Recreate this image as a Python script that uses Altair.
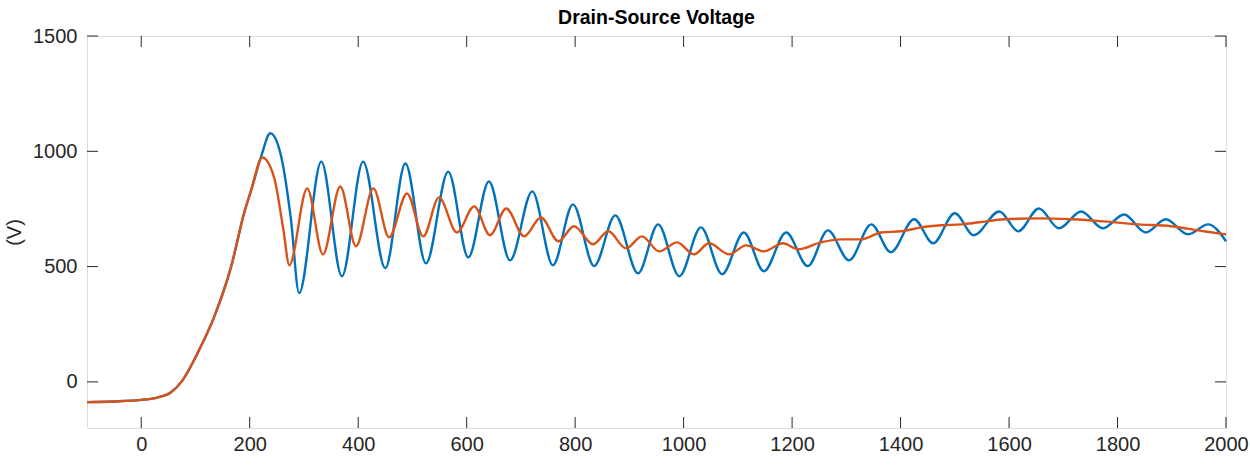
import altair as alt
import pandas as pd

# ---- data ----
blue_x = [-100, -50, 0, 30, 55, 74, 105, 135, 166, 190, 203, 221, 238, 258, 276, 291,
          332, 370, 409, 450, 487, 525, 566, 603, 641, 680, 721, 759, 796, 835, 874,
          916, 953, 992, 1032, 1071, 1111, 1148, 1189, 1229, 1266, 1305, 1346, 1382,
          1425, 1460, 1500, 1535, 1582, 1617, 1655, 1692, 1733, 1773, 1812, 1852,
          1889, 1930, 1967, 2000]
blue_y = [-88, -85, -78, -68, -45, 0, 130, 285, 502, 735, 834, 977, 1078, 977, 705, 385,
          955, 458, 955, 493, 947, 514, 912, 540, 869, 527, 826, 506, 770, 502, 722,
          471, 683, 458, 670, 467, 648, 480, 648, 502, 657, 527, 683, 562,
          705, 601, 731, 636, 739, 653, 752, 666, 739, 666, 726, 648,
          705, 640, 683, 610]

orange_x = [-100, -50, 0, 30, 55, 74, 105, 135, 166, 190, 203, 223, 245, 262, 273,
            306, 335, 367, 396, 428, 457, 490, 520, 549, 582, 614, 643, 673, 706, 737,
            769, 798, 833, 861, 894, 923, 955, 988, 1019, 1047, 1084, 1115, 1148, 1183,
            1211, 1253, 1290, 1327, 1364, 1401, 1438, 1475, 1512, 1545, 1591, 1653,
            1714, 1775, 1838, 1899, 1959, 2000]
orange_y = [-88, -85, -78, -68, -45, 0, 130, 285, 502, 735, 834, 973, 886, 661, 506,
            839, 553, 847, 588, 839, 627, 817, 631, 800, 648, 761, 636, 752, 631, 713,
            610, 675, 597, 653, 579, 631, 566, 605, 553, 601, 553, 592, 566, 601,
            575, 605, 618, 618, 648, 653, 670, 679, 683, 692, 705, 709,
            705, 696, 683, 675, 653, 640]

x_ticks = [0, 200, 400, 600, 800, 1000, 1200, 1400, 1600, 1800, 2000]
y_ticks = [0, 500, 1000, 1500]

W, H = 1139, 392
FONT = "Liberation Sans"
TXT = "#262626"

blue_df = pd.DataFrame({"t": blue_x, "v": blue_y})
orange_df = pd.DataFrame({"t": orange_x, "v": orange_y})
xt_df = pd.DataFrame({"t": x_ticks})
yt_df = pd.DataFrame({"v": y_ticks})

xscale = alt.Scale(domain=[-100, 2000], nice=False, zero=False)
yscale = alt.Scale(domain=[-200, 1500], nice=False, zero=False)

xaxis = alt.Axis(values=x_ticks, format="d", ticks=False, domain=False, grid=False,
                 labelFontSize=20, labelFont=FONT, labelColor=TXT, labelPadding=6,
                 labelFlush=False, labelOverlap=False, title=None)
yaxis = alt.Axis(values=y_ticks, format="d", ticks=False, domain=False, grid=False,
                 labelFontSize=20, labelFont=FONT, labelColor=TXT, labelPadding=10,
                 labelFlush=False, labelOverlap=False,
                 title="(V)", titleFontSize=20, titleFont=FONT, titleColor=TXT,
                 titleFontWeight="normal", titleX=-73, titleY=H / 2,
                 titleBaseline="middle", titleAlign="center", titleAngle=270)

blue = alt.Chart(blue_df).mark_line(color="#0072BD", strokeWidth=2.4,
                                    interpolate="monotone").encode(
    x=alt.X("t:Q", scale=xscale, axis=xaxis),
    y=alt.Y("v:Q", scale=yscale, axis=yaxis),
)
orange = alt.Chart(orange_df).mark_line(color="#D95319", strokeWidth=2.4,
                                        interpolate="monotone").encode(
    x=alt.X("t:Q", scale=xscale),
    y=alt.Y("v:Q", scale=yscale),
)

tick_len = 11
xt_bottom = alt.Chart(xt_df).mark_rule(color=TXT, strokeWidth=1).encode(
    x=alt.X("t:Q", scale=xscale), y=alt.value(H), y2=alt.value(H - tick_len))
xt_top = alt.Chart(xt_df).mark_rule(color=TXT, strokeWidth=1).encode(
    x=alt.X("t:Q", scale=xscale), y=alt.value(0), y2=alt.value(tick_len))
yt_left = alt.Chart(yt_df).mark_rule(color=TXT, strokeWidth=1).encode(
    y=alt.Y("v:Q", scale=yscale), x=alt.value(0), x2=alt.value(tick_len))
yt_right = alt.Chart(yt_df).mark_rule(color=TXT, strokeWidth=1).encode(
    y=alt.Y("v:Q", scale=yscale), x=alt.value(W), x2=alt.value(W - tick_len))

chart = alt.layer(blue, orange, xt_bottom, xt_top, yt_left, yt_right).properties(
    width=W, height=H,
    title=alt.TitleParams("Drain-Source Voltage", fontSize=19.5, fontWeight="bold",
                          font=FONT, color="black", offset=8, dy=10, anchor="middle"),
    padding={"left": 87, "top": 36, "right": 24, "bottom": 41},
    autosize="none",
).configure_view(stroke=TXT, strokeWidth=1).configure(background="white")

chart.save("out.html", embed_options={"renderer": "svg", "actions": False})
